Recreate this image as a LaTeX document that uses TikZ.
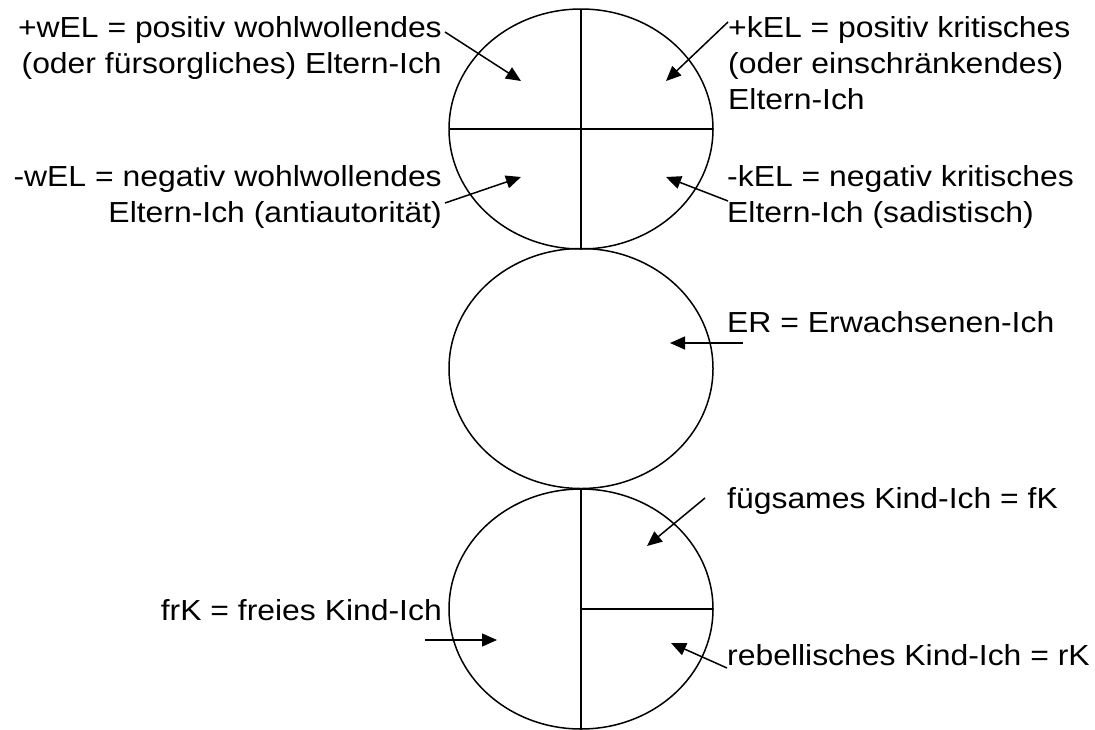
\documentclass[tikz,border=0pt]{standalone}
\usepackage{fontspec}
\setmainfont{Liberation Sans}
\usetikzlibrary{shapes.geometric,arrows.meta}
\newcommand{\wide}[1]{\scalebox{1.1}[1]{#1}}
\begin{document}
\begin{tikzpicture}[x=1pt,y=-1pt,
  ego/.style={draw, ellipse, line width=1.5pt, minimum width=264pt, minimum height=240pt, inner sep=0pt, outer sep=0pt},
  lbl/.style={inner sep=0pt, font=\fontsize{29}{36}\selectfont},
  ptr/.style={line width=1.5pt, -{Triangle[length=15pt,width=13pt]}},
  divline/.style={line width=1.5pt}]
\useasboundingbox (0,0) rectangle (1095,729);
% ego states
\node[ego] (EL) at (581,129) {};
\node[ego] (ER) at (581,368.5) {};
\node[ego] (K)  at (581,609) {};
\draw[divline] (EL.north) -- (EL.south);
\draw[divline] (EL.west) -- (EL.east);
\draw[divline] (K.north) -- (K.south);
\draw[divline] (K.center) -- (K.east);
% labels
\node[lbl, anchor=base east] (pwEL) at (442,37) {\wide{\begin{tabular}[t]{@{}r@{}}+wEL = positiv wohlwollendes\\(oder fürsorgliches) Eltern-Ich\end{tabular}}};
\node[lbl, anchor=base west] (pkEL) at (728,37) {\wide{\begin{tabular}[t]{@{}l@{}}+kEL = positiv kritisches\\(oder einschränkendes)\\Eltern-Ich\end{tabular}}};
\node[lbl, anchor=base east] (nwEL) at (442,186) {\wide{\begin{tabular}[t]{@{}r@{}}-wEL = negativ wohlwollendes\\Eltern-Ich (antiautorität)\end{tabular}}};
\node[lbl, anchor=base west] (nkEL) at (727,186) {\wide{\begin{tabular}[t]{@{}l@{}}-kEL = negativ kritisches\\Eltern-Ich (sadistisch)\end{tabular}}};
\node[lbl, anchor=base west] (erl) at (727,332) {\wide{ER = Erwachsenen-Ich}};
\node[lbl, anchor=base west] (fKl) at (727,508) {\wide{fügsames Kind-Ich = fK}};
\node[lbl, anchor=base west] (rKl) at (727,665) {\wide{rebellisches Kind-Ich = rK}};
\node[lbl, anchor=base east] (frKl) at (442,620) {\wide{frK = freies Kind-Ich}};
% arrow ends
\coordinate (s1) at (445,32);  \coordinate (t1) at (521,81);
\coordinate (s2) at (728,22);  \coordinate (t2) at (666,81);
\coordinate (s3) at (445,203); \coordinate (t3) at (521,177);
\coordinate (s4) at (728,201); \coordinate (t4) at (666,177);
\coordinate (s5) at (743,343); \coordinate (t5) at (670,343);
\coordinate (s6) at (705,498); \coordinate (t6) at (647,546);
\coordinate (s7) at (727,668); \coordinate (t7) at (671,643);
\coordinate (s8) at (425,640); \coordinate (t8) at (497,640);
\draw[ptr] (s1) -- (t1);
\draw[ptr] (s2) -- (t2);
\draw[ptr] (s3) -- (t3);
\draw[ptr] (s4) -- (t4);
\draw[ptr] (s5) -- (t5);
\draw[ptr] (s6) -- (t6);
\draw[ptr] (s7) -- (t7);
\draw[ptr] (s8) -- (t8);
\end{tikzpicture}
\end{document}
